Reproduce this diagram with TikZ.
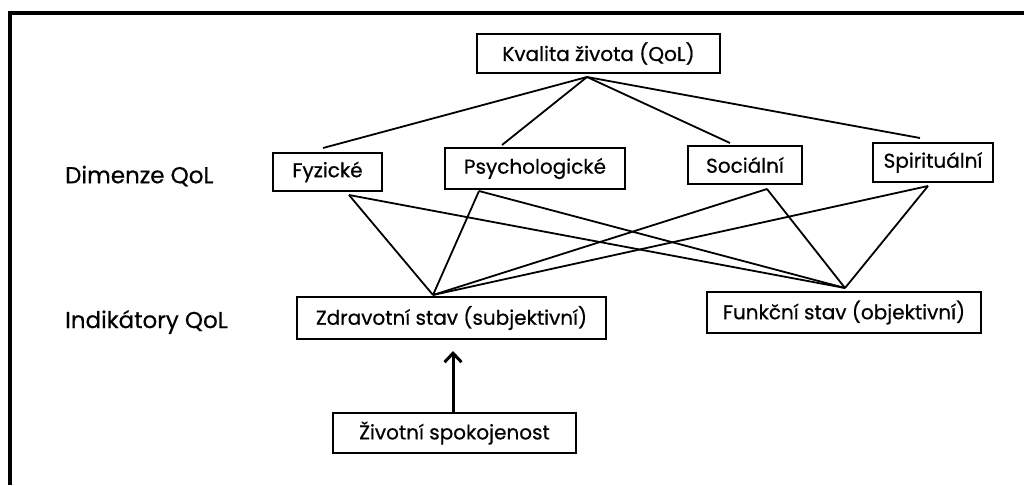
\documentclass[tikz,border=0pt]{standalone}
\usepackage{fontspec}
\setmainfont{Poppins}[FakeBold=0.6]
\usetikzlibrary{arrows.meta}
\begin{document}
\begin{tikzpicture}[x=1pt,y=-1pt,
  box/.style={draw,line width=1.2pt,inner sep=0pt,font=\fontsize{20}{23}\selectfont},
  lab/.style={anchor=west,inner sep=0pt,font=\fontsize{23}{26}\selectfont},
  link/.style={line width=1.8pt},
  frameline/.style={line width=4pt}]
\useasboundingbox (0,0) rectangle (1024,485);
% frame (top and left only)
\coordinate (fbl) at (10,485);
\coordinate (ftl) at (10,13);
\coordinate (ftr) at (1026,13);
\draw[frameline] (fbl) -- (ftl) -- (ftr);
% nodes
\node[box,minimum width=243pt,minimum height=39pt] (qol) at (598.5,53.5) {Kvalita života (QoL)};
\node[box,minimum width=109pt,minimum height=38pt] (fyz) at (327.5,172) {Fyzické};
\node[box,minimum width=180pt,minimum height=41pt] (psy) at (535,168.5) {Psychologické};
\node[box,minimum width=114pt,minimum height=38pt] (soc) at (745,165) {Sociální};
\node[box,minimum width=120pt,minimum height=39pt] (spi) at (933,162.5) {Spirituální};
\node[box,minimum width=309pt,minimum height=42pt] (zdr) at (451.5,318) {Zdravotní stav (subjektivní)};
\node[box,minimum width=274pt,minimum height=41pt] (fun) at (844,312.5) {Funkční stav (objektivní)};
\node[box,minimum width=243pt,minimum height=40pt] (ziv) at (454.5,433) {Životní spokojenost};
\node[lab] (dim) at (65,176) {Dimenze QoL};
\node[lab] (ind) at (65,322) {Indikátory QoL};
% junction points
\coordinate (qa) at (587,77);
\coordinate (fyzT) at (323,148);
\coordinate (psyT) at (502,145);
\coordinate (socT) at (730,143);
\coordinate (spiT) at (920,138);
\coordinate (fyzB) at (349,195);
\coordinate (psyB) at (479,191);
\coordinate (socB) at (767,189);
\coordinate (spiB) at (928,186);
\coordinate (za) at (433,295);
\coordinate (fa) at (845,288);
% top fan
\draw[link] (qa) -- (fyzT);
\draw[link] (qa) -- (psyT);
\draw[link] (qa) -- (socT);
\draw[link] (qa) -- (spiT);
% lower links
\draw[link] (fyzB) -- (za);
\draw[link] (fyzB) -- (fa);
\draw[link] (psyB) -- (za);
\draw[link] (psyB) -- (fa);
\draw[link] (socB) -- (za);
\draw[link] (socB) -- (fa);
\draw[link] (spiB) -- (za);
\draw[link] (spiB) -- (fa);
% arrow
\draw[line width=3pt,-{Straight Barb[length=9pt,width=17pt]}] (ziv.north -| 453,0) -- (453,351);
\end{tikzpicture}
\end{document}
